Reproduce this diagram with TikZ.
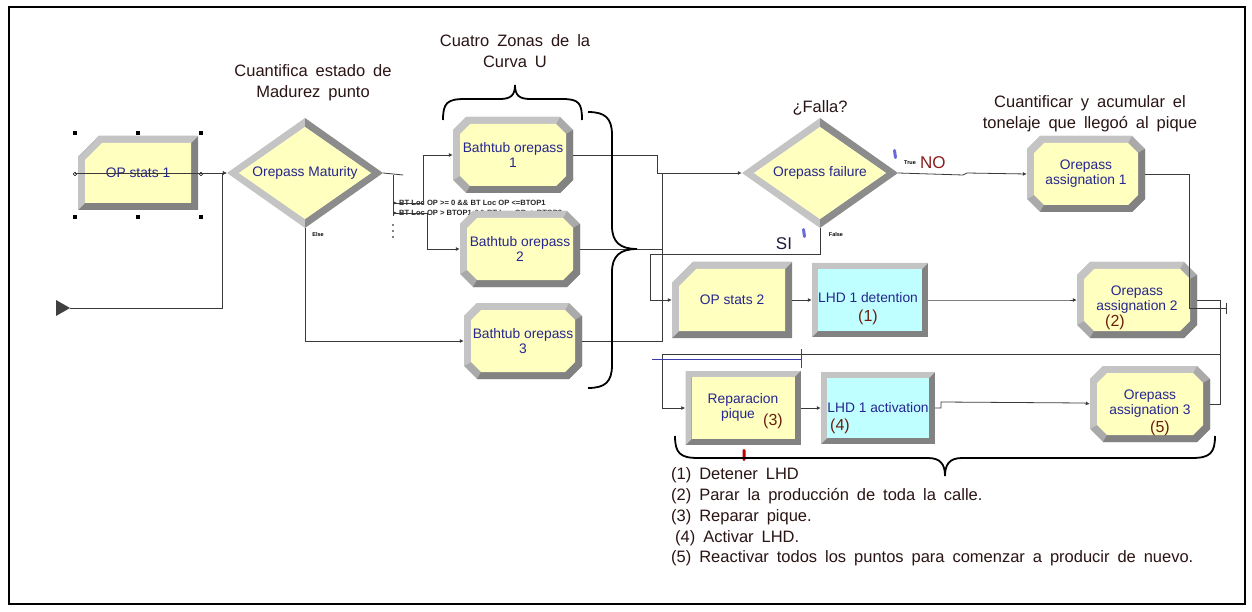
\documentclass[tikz,border=0pt]{standalone}
\usepackage{fontspec}
\setmainfont{Liberation Sans}
\usetikzlibrary{arrows.meta}
\definecolor{blkfill}{HTML}{FFFFC0}
\definecolor{cyfill}{HTML}{C0FFFF}
\definecolor{bvlight}{HTML}{C4C4C4}
\definecolor{bvdark}{HTML}{828282}
\definecolor{navy}{HTML}{262690}
\definecolor{annot}{HTML}{2A1414}
\definecolor{numred}{HTML}{6A1E0E}
\definecolor{wirec}{HTML}{3A3A3A}
\definecolor{markblue}{HTML}{6A6AD8}
\definecolor{selblue}{HTML}{3A3AB0}
\definecolor{nored}{HTML}{8A1C1C}
\definecolor{siblue}{HTML}{1A1A3A}
\newcommand\widesp{\spaceskip 0.48em\relax}

\newcommand\octblk[6]{%
\begin{scope}[shift={(#2,#3)}]
\pgfmathsetmacro\bka{#4/2}\pgfmathsetmacro\bkb{#5/2}
\pgfmathsetmacro\bkc{\bka-7}\pgfmathsetmacro\bkd{\bkb-7}
\fill[bvlight!60!bvdark] (-\bka+13,-\bkb) -- (\bka-13,-\bkb) -- (\bka,-\bkb+13) -- (\bka,\bkb-13) -- (\bka-13,\bkb) -- (-\bka+13,\bkb) -- (-\bka,\bkb-13) -- (-\bka,-\bkb+13) -- cycle;
\fill[bvlight] (-\bka,\bkb-13) -- (-\bka,-\bkb+13) -- (-\bka+13,-\bkb) -- (\bka-13,-\bkb) -- (\bkc-10,-\bkd) -- (-\bkc+10,-\bkd) -- (-\bkc,-\bkd+10) -- (-\bkc,\bkd-10) -- cycle;
\fill[bvdark] (\bka,-\bkb+13) -- (\bka,\bkb-13) -- (\bka-13,\bkb) -- (-\bka+13,\bkb) -- (-\bkc+10,\bkd) -- (\bkc-10,\bkd) -- (\bkc,\bkd-10) -- (\bkc,-\bkd+10) -- cycle;
\fill[blkfill] (-\bkc+10,-\bkd) -- (\bkc-10,-\bkd) -- (\bkc,-\bkd+10) -- (\bkc,\bkd-10) -- (\bkc-10,\bkd) -- (-\bkc+10,\bkd) -- (-\bkc,\bkd-10) -- (-\bkc,-\bkd+10) -- cycle;
\end{scope}
\node[blk,minimum width=#4pt,minimum height=#5pt] (#1) at (#2,#3) {#6};}

\newcommand\rectblk[7]{%
\begin{scope}[shift={(#2,#3)}]
\pgfmathsetmacro\bka{#4/2}\pgfmathsetmacro\bkb{#5/2}
\pgfmathsetmacro\bkc{\bka-6}\pgfmathsetmacro\bkd{\bkb-6}
\fill[bvdark] (-\bka,-\bkb) rectangle (\bka,\bkb);
\fill[bvlight] (-\bka,\bkb) -- (-\bka,-\bkb) -- (\bka,-\bkb) -- (\bkc,-\bkd) -- (-\bkc,-\bkd) -- (-\bkc,\bkd) -- cycle;
\fill[#6] (-\bkc,-\bkd) rectangle (\bkc,\bkd);
\end{scope}
\node[blk,minimum width=#4pt,minimum height=#5pt] (#1) at (#2,#3) {#7};}

\newcommand\cutblk[6]{%
\begin{scope}[shift={(#2,#3)}]
\pgfmathsetmacro\bka{#4/2}\pgfmathsetmacro\bkb{#5/2}
\pgfmathsetmacro\bkc{\bka-7}\pgfmathsetmacro\bkd{\bkb-7}
\fill[bvdark] (-\bka+21,-\bkb) -- (\bka,-\bkb) -- (\bka,\bkb) -- (-\bka,\bkb) -- (-\bka,-\bkb+21) -- cycle;
\fill[bvlight] (-\bka,\bkb) -- (-\bka,-\bkb+21) -- (-\bka+21,-\bkb) -- (\bka,-\bkb) -- (\bkc,-\bkd) -- (-\bkc+17,-\bkd) -- (-\bkc,-\bkd+17) -- (-\bkc,\bkd) -- cycle;
\fill[blkfill] (-\bkc+17,-\bkd) -- (\bkc,-\bkd) -- (\bkc,\bkd) -- (-\bkc,\bkd) -- (-\bkc,-\bkd+17) -- cycle;
\end{scope}
\node[blk,minimum width=#4pt,minimum height=#5pt] (#1) at (#2,#3) {#6};}

\newcommand\dmdblk[6]{%
\begin{scope}[shift={(#2,#3)}]
\pgfmathsetmacro\bka{#4/2}\pgfmathsetmacro\bkb{#5/2}
\pgfmathsetmacro\bkc{\bka-12}\pgfmathsetmacro\bkd{\bkb-9}
\fill[bvlight] (0,-\bkb) -- (-\bka,0) -- (0,\bkb) -- (0,\bkd) -- (-\bkc,0) -- (0,-\bkd) -- cycle;
\fill[bvdark!85!bvlight] (0,-\bkb) -- (\bka,0) -- (0,\bkb) -- (0,\bkd) -- (\bkc,0) -- (0,-\bkd) -- cycle;
\fill[blkfill] (0,-\bkd) -- (\bkc,0) -- (0,\bkd) -- (-\bkc,0) -- cycle;
\end{scope}
\node[blk,minimum width=#4pt,minimum height=#5pt] (#1) at (#2,#3) {#6};}

\begin{document}
\begin{tikzpicture}[x=1pt,y=-1pt,
  blk/.style={inner sep=0pt,align=center,text=navy,font=\fontsize{13.8}{15}\selectfont},
  btxt/.style={inner sep=0pt,align=center,text=navy,font=\fontsize{13.8}{15}\selectfont},
  num/.style={inner sep=0pt,text=numred,font=\fontsize{16}{18}\selectfont},
  annot/.style={inner sep=0pt,align=center,text=annot,font=\fontsize{16.5}{21}\selectfont\widesp},
  legend/.style={inner sep=0pt,anchor=west,text=annot,font=\fontsize{16.5}{18}\selectfont\widesp},
  tinylab/.style={inner sep=0pt,text=black,font=\fontsize{5.5}{6}\selectfont\bfseries},
  cond/.style={inner sep=0pt,anchor=west,text=black!85,font=\fontsize{7.6}{8}\selectfont\bfseries},
  wire/.style={draw=wirec,line width=0.8pt},
  tip/.style={-{Latex[length=4pt,width=4pt]}},
  brc/.style={draw=black,line width=1.8pt},
  markb/.style={fill=markblue,inner sep=0pt,minimum width=3pt,minimum height=10pt,rounded corners=1.4pt},
  handle/.style={fill=black,inner sep=0pt,minimum size=3.5pt}]
\useasboundingbox (0,0) rectangle (1252,612);
\draw[line width=2pt] (9,7) rectangle (1245,604);

% condition texts (behind blocks)
\node[cond] (cnd1) at (399,203) {BT Loc OP >= 0 \&\& BT Loc OP <=BTOP1};
\node[cond] (cnd2) at (399,213) {BT Loc OP > BTOP1 \&\& BT Loc OP <=BTOP2};

% blocks
\cutblk{ops1}{138}{173}{120}{74}{OP stats 1}
\dmdblk{mat}{305}{173}{156}{110}{Orepass Maturity}
\octblk{bt1}{513}{155}{120}{76}{Bathtub orepass\\1}
\octblk{bt2}{520}{249}{120}{76}{Bathtub orepass\\2}
\octblk{bt3}{523}{341}{118}{76}{Bathtub orepass\\3}
\dmdblk{fail}{820}{173}{156}{110}{Orepass failure}
\octblk{as1}{1086}{174}{118}{76}{Orepass\\assignation 1}
\cutblk{ops2}{732}{300}{120}{76}{OP stats 2}
\rectblk{lhd1}{870}{300}{116}{74}{cyfill}{}
\octblk{as2}{1137}{300}{120}{76}{Orepass\\assignation 2}
\rectblk{rep}{743}{408}{115}{74}{blkfill}{}
\rectblk{lhd2}{878}{408}{114}{72}{cyfill}{}
\octblk{as3}{1150}{404}{120}{76}{Orepass\\assignation 3}

% texts inside blocks
\node[btxt] (lhd1t) at (868,298) {LHD 1 detention};
\node[num] (n1) at (868,317) {(1)};
\node[num] (n2) at (1115,322) {(2)};
\node[btxt] (rept1) at (743,400) {Reparacion};
\node[btxt] (rept2) at (738,415) {pique};
\node[num] (n3) at (773,421) {(3)};
\node[btxt] (lhd2t) at (878,408) {LHD 1 activation};
\node[num] (n4) at (840,426) {(4)};
\node[num] (n5) at (1160,428) {(5)};

% selection handles around OP stats 1
\foreach \hx/\hy [count=\hi] in {75/133,138/133,201/133,75/217,138/217,201/217}
  \node[handle] (h\hi) at (\hx,\hy) {};
\draw[line width=0.6pt] (75,174) circle (1.8);
\draw[line width=0.6pt] (201,174) circle (1.8);

% input arrow
\coordinate (in) at (70,308);
\fill[black!75] (56,300) -- (70,308) -- (56,316) -- cycle;
\coordinate (m1) at (222,308);
\coordinate (m2) at (222,173);
\draw[wire,tip] (in) -- (m1) -- (m2) -- (mat.west);
\draw[wire,tip] ([xshift=-3pt]ops1.west) -- (mat.west);

% decide branches
\coordinate (d0) at (403,175);
\coordinate (d1) at (393,175);
\coordinate (d2) at (393,216);
\coordinate (c1) at (393,203);
\coordinate (c1r) at (423,203);
\coordinate (c2) at (393,213);
\coordinate (c2r) at (427,213);
\draw[wire] (mat.east) -- (d0);
\draw[wire] (d1) -- (d2);
\draw[wire,tip] (c1) -- (c1r) |- (bt1.west);
\draw[wire,tip] (c2) -- (c2r) |- (bt2.west);
\draw[wire,-{Latex[length=3pt,width=3pt]}] (c1) -- ++(4,0);
\draw[wire,-{Latex[length=3pt,width=3pt]}] (c2) -- ++(4,0);
\foreach \dy in {225,231,237} \fill[black] (393,\dy) circle (0.8);
\draw[wire,tip] (mat.south) |- (bt3.west);
\node[tinylab] (lelse) at (318,235) {Else};

% bathtubs to failure
\coordinate (k1) at (657,155);
\coordinate (k2) at (657,173);
\coordinate (k3) at (662,173);
\draw[wire,tip] (bt1.east) -- (k1) -- (k2) -- (fail.west);
\draw[wire] (bt2.east) -| (k3);
\draw[wire] (bt3.east) -| (k3);

% failure outputs
\coordinate (f1) at (963,175);
\coordinate (f2) at (967,173);
\draw[wire,tip] (fail.east) -- (f1) -- (f2) -- (as1.west);
\node[tinylab] (ltrue) at (910,163) {True};
\node[inner sep=0pt,anchor=west,text=nored,font=\fontsize{17}{18}\selectfont] (lno) at (920,163) {NO};
\coordinate (s1) at (820,254);
\coordinate (s2) at (650,254);
\draw[wire,tip] (fail.south) -- (s1) -- (s2) |- (ops2.west);
\node[tinylab] (lfalse) at (836,235) {False};
\node[inner sep=0pt,text=siblue,font=\fontsize{17}{18}\selectfont] (lsi) at (784,244) {SI};
\node[annot] (lfalla) at (820,108) {¿Falla?};

% middle row
\draw[wire,tip] (ops2.east) -- (lhd1.west);
\coordinate (g1) at (1068,300);
\draw[wire,tip] (lhd1.east) -- (g1) -- (as2.west);

% right side wires
\coordinate (r1) at (1189,308);
\coordinate (r2) at (1227,308);
\draw[wire,-{Bar[width=11pt]}] (as1.east) -| (r1) -- (r2);
\coordinate (r3) at (1220,354);
\coordinate (r4) at (662,354);
\draw[wire] (as2.east) -| (r3);
\draw[wire] (as3.east) -| (r3);
\draw[wire,tip] (r3) -- (r4) |- (rep.west);

% bottom row
\draw[wire,tip] (rep.east) -- (lhd2.west);
\coordinate (t1) at (941,408);
\coordinate (t2) at (941,402);
\coordinate (t3) at (1084,403);
\draw[wire,tip] (lhd2.east) -- (t1) -- (t2) -- (t3) -- (as3.west);

% blue selection line
\draw[selblue,line width=1pt] (652,359) -- (801,359);
\draw[selblue,line width=1pt] (801,349) -- (801,368);

% markers
\node[markb,rotate=8] (mk1) at (895,154) {};
\node[markb,rotate=8] (mk2) at (804,233) {};
\node[markb,fill=red!75!black,minimum height=12pt] (mk3) at (744,455) {};

% braces
\draw[brc] (443,120) .. controls (443,103) and (447,99) .. (465,99) -- (500,99)
  .. controls (511,99) and (515,95) .. (515,85) .. controls (515,95) and (519,99) .. (530,99)
  -- (562,99) .. controls (579,99) and (582,103) .. (582,120);
\draw[brc] (588,112) .. controls (605,112) and (612,118) .. (612,135) -- (612,226)
  .. controls (612,242) and (620,249) .. (637,249) .. controls (620,249) and (612,256) .. (612,272)
  -- (612,365) .. controls (612,382) and (605,388) .. (588,388);
\draw[brc] (675,436) .. controls (675,453) and (680,458) .. (698,458) -- (928,458)
  .. controls (941,458) and (945,465) .. (945,476) .. controls (945,465) and (949,458) .. (962,458)
  -- (1192,458) .. controls (1210,458) and (1215,453) .. (1215,436);

% annotations
\node[annot] (a1) at (313,83) {Cuantifica estado de\\Madurez punto};
\node[annot] (a2) at (515,51) {Cuatro Zonas de la\\Curva U};
\node[annot] (a3) at (1090,114) {Cuantificar y acumular el\\tonelaje que llegoó al pique};

% legend
\node[legend] (l1) at (671,475) {(1) Detener LHD};
\node[legend] (l2) at (671,496) {(2) Parar la producción de toda la calle.};
\node[legend] (l3) at (671,517) {(3) Reparar pique.};
\node[legend] (l4) at (675,538) {(4) Activar LHD.};
\node[legend] (l5) at (671,558) {(5) Reactivar todos los puntos para comenzar a producir de nuevo.};
\end{tikzpicture}
\end{document}
